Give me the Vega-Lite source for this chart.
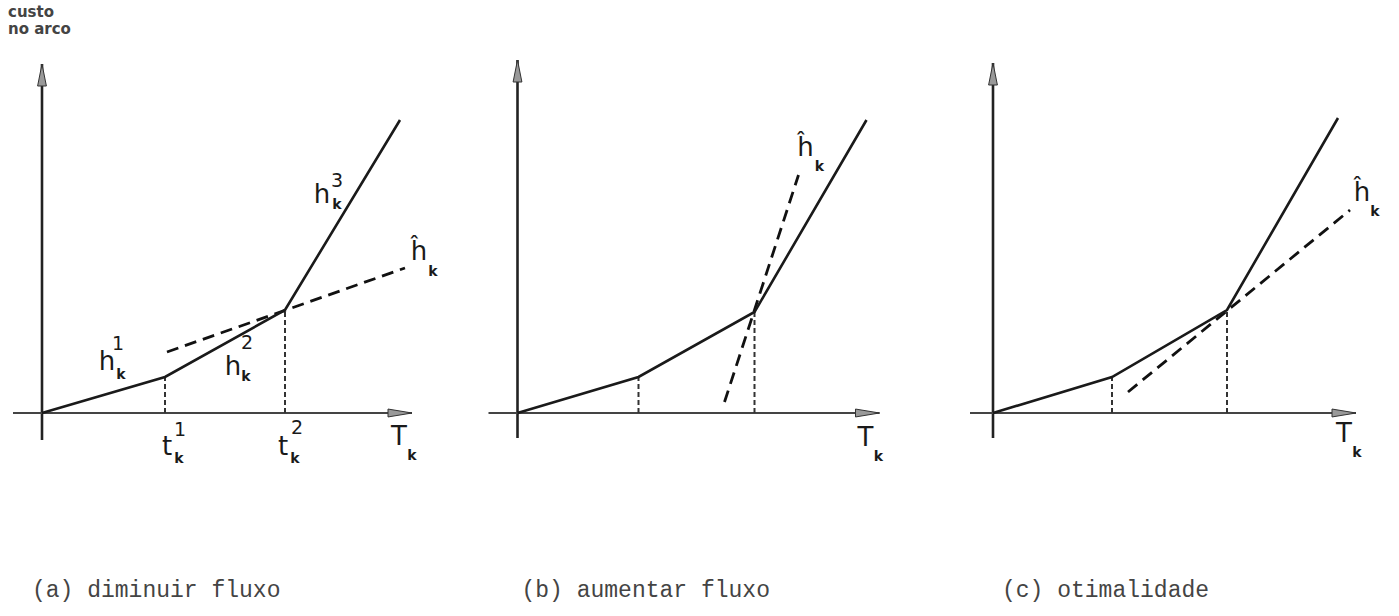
{
  "$schema": "https://vega.github.io/schema/vega-lite/v6.json",
  "padding": 0,
  "background": "white",
  "config": {"view": {"stroke": null}, "header": {"labelPadding": 0, "titlePadding": 0}},
  "data": {"values": [
    {"panel": "a", "kind": "yaxis", "T": 0, "c": -27, "T2": 0, "c2": 349},
    {"panel": "a", "kind": "xaxis", "T": -29, "c": 0, "T2": 370, "c2": 0},
    {"panel": "a", "kind": "arrowUp", "T": 0, "c": 338},
    {"panel": "a", "kind": "arrowRight", "T": 358, "c": 0},
    {"panel": "a", "kind": "curve", "T": 0, "c": 0},
    {"panel": "a", "kind": "curve", "T": 123, "c": 36},
    {"panel": "a", "kind": "curve", "T": 243, "c": 103},
    {"panel": "a", "kind": "curve", "T": 358, "c": 293},
    {"panel": "a", "kind": "drop", "T": 123, "c": 0, "T2": 123, "c2": 36},
    {"panel": "a", "kind": "drop", "T": 243, "c": 0, "T2": 243, "c2": 103},
    {"panel": "a", "kind": "tangent", "T": 125, "c": 61, "T2": 363, "c2": 145},
    {"panel": "a", "kind": "base", "text": "h", "T": 65, "c": 51},
    {"panel": "a", "kind": "sup", "text": "1", "T": 76, "c": 69},
    {"panel": "a", "kind": "sub", "text": "k", "T": 79, "c": 38},
    {"panel": "a", "kind": "base", "text": "h", "T": 191, "c": 46},
    {"panel": "a", "kind": "sup", "text": "2", "T": 205, "c": 70},
    {"panel": "a", "kind": "sub", "text": "k", "T": 204, "c": 36},
    {"panel": "a", "kind": "base", "text": "h", "T": 280, "c": 218},
    {"panel": "a", "kind": "sup", "text": "3", "T": 295, "c": 232},
    {"panel": "a", "kind": "sub", "text": "k", "T": 295, "c": 208},
    {"panel": "a", "kind": "base", "text": "ĥ", "T": 377, "c": 161},
    {"panel": "a", "kind": "sub", "text": "k", "T": 391, "c": 141},
    {"panel": "a", "kind": "base", "text": "t", "T": 125, "c": -34},
    {"panel": "a", "kind": "sup", "text": "1", "T": 138, "c": -17},
    {"panel": "a", "kind": "sub", "text": "k", "T": 137, "c": -46},
    {"panel": "a", "kind": "base", "text": "t", "T": 241, "c": -34},
    {"panel": "a", "kind": "sup", "text": "2", "T": 255, "c": -15},
    {"panel": "a", "kind": "sub", "text": "k", "T": 253, "c": -46},
    {"panel": "a", "kind": "base", "text": "T", "T": 357, "c": -24},
    {"panel": "a", "kind": "sub", "text": "k", "T": 370, "c": -43},
    {"panel": "a", "kind": "ylabel", "text": "custo", "T": -34, "c": 401},
    {"panel": "a", "kind": "ylabel", "text": "no arco", "T": -34, "c": 384},
    {"panel": "a", "kind": "caption", "text": "(a) diminuir fluxo", "T": -10, "c": -177},

    {"panel": "b", "kind": "yaxis", "T": 0, "c": -25, "T2": 0, "c2": 353},
    {"panel": "b", "kind": "xaxis", "T": -29, "c": 0, "T2": 362, "c2": 0},
    {"panel": "b", "kind": "arrowUp", "T": 0, "c": 342},
    {"panel": "b", "kind": "arrowRight", "T": 350, "c": 0},
    {"panel": "b", "kind": "curve", "T": 0, "c": 0},
    {"panel": "b", "kind": "curve", "T": 121, "c": 36},
    {"panel": "b", "kind": "curve", "T": 237, "c": 101},
    {"panel": "b", "kind": "curve", "T": 349, "c": 293},
    {"panel": "b", "kind": "drop", "T": 121, "c": 0, "T2": 121, "c2": 36},
    {"panel": "b", "kind": "drop", "T": 237, "c": 0, "T2": 237, "c2": 101},
    {"panel": "b", "kind": "tangent", "T": 207, "c": 11, "T2": 281, "c2": 238},
    {"panel": "b", "kind": "base", "text": "ĥ", "T": 288, "c": 265},
    {"panel": "b", "kind": "sub", "text": "k", "T": 302, "c": 246},
    {"panel": "b", "kind": "base", "text": "T", "T": 348, "c": -25},
    {"panel": "b", "kind": "sub", "text": "k", "T": 361, "c": -44},
    {"panel": "b", "kind": "caption", "text": "(b) aumentar fluxo", "T": 4, "c": -177},

    {"panel": "c", "kind": "yaxis", "T": 0, "c": -25, "T2": 0, "c2": 350},
    {"panel": "c", "kind": "xaxis", "T": -23, "c": 0, "T2": 363, "c2": 0},
    {"panel": "c", "kind": "arrowUp", "T": 0, "c": 339},
    {"panel": "c", "kind": "arrowRight", "T": 351, "c": 0},
    {"panel": "c", "kind": "curve", "T": 0, "c": 0},
    {"panel": "c", "kind": "curve", "T": 119, "c": 36},
    {"panel": "c", "kind": "curve", "T": 234, "c": 103},
    {"panel": "c", "kind": "curve", "T": 345, "c": 295},
    {"panel": "c", "kind": "drop", "T": 119, "c": 0, "T2": 119, "c2": 36},
    {"panel": "c", "kind": "drop", "T": 234, "c": 0, "T2": 234, "c2": 103},
    {"panel": "c", "kind": "tangent", "T": 135, "c": 21, "T2": 357, "c2": 203},
    {"panel": "c", "kind": "base", "text": "ĥ", "T": 369, "c": 220},
    {"panel": "c", "kind": "sub", "text": "k", "T": 382, "c": 201},
    {"panel": "c", "kind": "base", "text": "T", "T": 351, "c": -21},
    {"panel": "c", "kind": "sub", "text": "k", "T": 364, "c": -40},
    {"panel": "c", "kind": "caption", "text": "(c) otimalidade", "T": 9, "c": -177}
  ]},
  "facet": {"column": {"field": "panel", "type": "nominal", "header": {"title": null, "labels": false}}},
  "spacing": 27.5,
  "spec": {
    "width": 448,
    "height": 616,
    "encoding": {
      "x": {"field": "T", "type": "quantitative", "scale": {"domain": [-42, 406], "nice": false, "zero": false}, "axis": null},
      "y": {"field": "c", "type": "quantitative", "scale": {"domain": [-203, 413], "nice": false, "zero": false}, "axis": null}
    },
    "layer": [
      {"transform": [{"filter": "datum.kind == 'yaxis'"}], "mark": {"type": "rule", "strokeWidth": 2.6, "color": "#222"},
       "encoding": {"x2": {"field": "T2"}, "y2": {"field": "c2"}}},
      {"transform": [{"filter": "datum.kind == 'xaxis'"}], "mark": {"type": "rule", "strokeWidth": 1.8, "color": "#444"},
       "encoding": {"x2": {"field": "T2"}, "y2": {"field": "c2"}}},
      {"transform": [{"filter": "datum.kind == 'drop'"}], "mark": {"type": "rule", "strokeWidth": 2, "color": "#333", "strokeDash": [5, 3]},
       "encoding": {"x2": {"field": "T2"}, "y2": {"field": "c2"}}},
      {"transform": [{"filter": "datum.kind == 'tangent'"}], "mark": {"type": "rule", "strokeWidth": 2.8, "color": "#111", "strokeDash": [12, 7]},
       "encoding": {"x2": {"field": "T2"}, "y2": {"field": "c2"}}},
      {"transform": [{"filter": "datum.kind == 'curve'"}], "mark": {"type": "line", "strokeWidth": 2.6, "color": "#1a1a1a"}},
      {"transform": [{"filter": "datum.kind == 'arrowUp'"}], "mark": {"type": "point", "shape": "M-0.4,1 L0,-1 L0.4,1 Z", "size": 484, "filled": true, "fill": "#999", "stroke": "#333", "strokeWidth": 1, "opacity": 1}},
      {"transform": [{"filter": "datum.kind == 'arrowRight'"}], "mark": {"type": "point", "shape": "M-1,-0.33 L1,0 L-1,0.33 Z", "size": 576, "filled": true, "fill": "#999", "stroke": "#333", "strokeWidth": 1, "opacity": 1}},
      {"transform": [{"filter": "datum.kind == 'base'"}], "mark": {"type": "text", "font": "DejaVu Sans", "fontSize": 26, "color": "#1a1a1a", "align": "center", "baseline": "middle"},
       "encoding": {"text": {"field": "text"}}},
      {"transform": [{"filter": "datum.kind == 'sup'"}], "mark": {"type": "text", "font": "DejaVu Sans", "fontSize": 19, "color": "#1a1a1a", "align": "center", "baseline": "middle"},
       "encoding": {"text": {"field": "text"}}},
      {"transform": [{"filter": "datum.kind == 'sub'"}], "mark": {"type": "text", "font": "DejaVu Sans", "fontSize": 14, "fontWeight": "bold", "color": "#1a1a1a", "align": "center", "baseline": "middle"},
       "encoding": {"text": {"field": "text"}}},
      {"transform": [{"filter": "datum.kind == 'ylabel'"}], "mark": {"type": "text", "font": "DejaVu Sans", "fontSize": 15, "fontWeight": "bold", "color": "#444", "align": "left", "baseline": "middle"},
       "encoding": {"text": {"field": "text"}}},
      {"transform": [{"filter": "datum.kind == 'caption'"}], "mark": {"type": "text", "font": "Liberation Mono", "fontSize": 23, "color": "#444", "align": "left", "baseline": "middle"},
       "encoding": {"text": {"field": "text"}}}
    ]
  }
}
